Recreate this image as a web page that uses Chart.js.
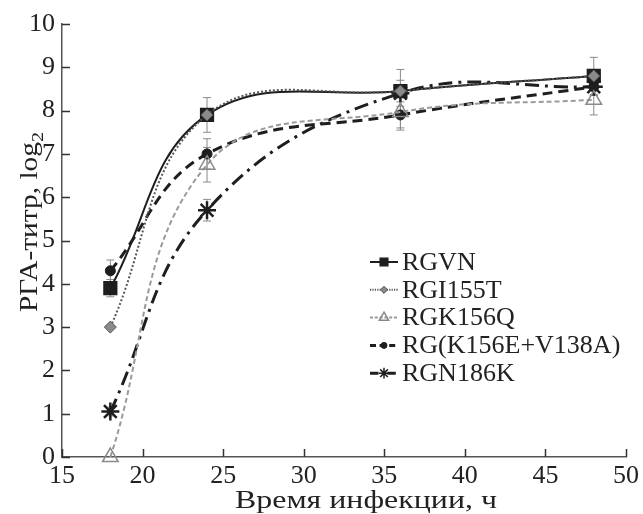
<!DOCTYPE html>
<html><head><meta charset="utf-8">
<script src="https://cdn.jsdelivr.net/npm/chart.js@4/dist/chart.umd.min.js"></script>
<style>html,body{margin:0;padding:0;background:#fff}#wrap{width:643px;height:514px}</style>
</head><body><div id="wrap"><canvas id="c" width="643" height="514"></canvas></div>
<script>
// ---- data ----
const hours = [18, 24, 36, 48];
const seriesNames = ['RGVN', 'RGI155T', 'RGK156Q', 'RG(K156E+V138A)', 'RGN186K'];
const rgvn = [3.9, 7.9, 8.45, 8.8];
const rgvnErr = [0.2, 0.4, 0.5, 0.43];
const rgi155t = [3.0, 7.9, 8.45, 8.8];
const rgi155tErr = [0, 0, 0, 0];
const rgk156q = [0, 6.75, 7.97, 8.25];
const rgk156qErr = [0, 0.4, 0.42, 0.35];
const rgk156e = [4.3, 7.0, 7.9, 8.55];
const rgk156eErr = [0.25, 0.35, 0.3, 0.2];
const rgn186k = [1.05, 5.7, 8.4, 8.55];
const rgn186kErr = [0.1, 0.25, 0.3, 0.2];
const xTicks = [15, 20, 25, 30, 35, 40, 45, 50];
const yTicks = [0, 1, 2, 3, 4, 5, 6, 7, 8, 9, 10];
const xTitle = 'Время инфекции, ч';
const yTitle = 'РГА-титр, log';
const yTitleSub = '2';

const FONT = "'Liberation Serif', 'DejaVu Serif', serif";
const pts = (vals) => hours.map((h, i) => ({x: h, y: vals[i]}));

const styles = [
  {color: '#1e1e1e', width: 2, dash: [], pstyle: 'rect', r: 9, bg: '#1e1e1e', bw: 1.5, order: 2},
  {color: '#555555', width: 2, dash: [2, 2], pstyle: 'rectRot', r: 6, bg: '#8a8a8a', bw: 1, order: 1},
  {color: '#9a9a9a', width: 2, dash: [5, 3], pstyle: 'triangle', r: 9, bg: 'rgba(255,255,255,0)', bw: 1.5, order: 3},
  {color: '#1e1e1e', width: 3, dash: [10, 6], pstyle: 'circle', r: 5, bg: '#1e1e1e', bw: 1, order: 4},
  {color: '#1e1e1e', width: 3, dash: [14, 6, 3, 6], pstyle: 'star', r: 9, bg: '#1e1e1e', bw: 2.5, order: 5}
];
const values = [rgvn, rgi155t, rgk156q, rgk156e, rgn186k];
const errors = [rgvnErr, rgi155tErr, rgk156qErr, rgk156eErr, rgn186kErr];

const datasets = values.map((v, i) => ({
  label: seriesNames[i],
  data: pts(v),
  borderColor: styles[i].color,
  borderWidth: styles[i].width,
  borderDash: styles[i].dash,
  tension: 0.4,
  pointStyle: styles[i].pstyle,
  pointRadius: styles[i].r,
  pointBackgroundColor: styles[i].bg,
  pointBorderColor: i === 2 ? '#8a8a8a' : styles[i].color,
  pointBorderWidth: styles[i].bw,
  order: styles[i].order,
  clip: false,
  fill: false
}));

const errorBars = {
  id: 'errorBars',
  beforeDatasetsDraw(chart) {
    const {ctx, scales: {x, y}} = chart;
    ctx.save();
    ctx.strokeStyle = '#8a8a8a';
    ctx.lineWidth = 1;
    errors.forEach((errs, si) => {
      errs.forEach((e, i) => {
        if (!e) return;
        const px = x.getPixelForValue(hours[i]);
        const top = y.getPixelForValue(values[si][i] + e);
        const bot = y.getPixelForValue(values[si][i] - e);
        ctx.beginPath();
        ctx.moveTo(px, top); ctx.lineTo(px, bot);
        ctx.moveTo(px - 4, top); ctx.lineTo(px + 4, top);
        ctx.moveTo(px - 4, bot); ctx.lineTo(px + 4, bot);
        ctx.stroke();
      });
    });
    ctx.restore();
  }
};

const innerTicks = {
  id: 'innerTicks',
  afterDraw(chart) {
    const {ctx, scales: {x, y}, chartArea} = chart;
    ctx.save();
    ctx.strokeStyle = '#333';
    ctx.lineWidth = 1.5;
    ctx.beginPath();
    yTicks.forEach(v => {
      const py = Math.round(y.getPixelForValue(v)) + 0.5;
      ctx.moveTo(chartArea.left, py); ctx.lineTo(chartArea.left + 8, py);
    });
    xTicks.forEach(v => {
      const px = Math.round(x.getPixelForValue(v)) + 0.5;
      ctx.moveTo(px, chartArea.bottom); ctx.lineTo(px, chartArea.bottom - 8);
    });
    ctx.stroke();
    ctx.restore();
  }
};

const titles = {
  id: 'titles',
  afterDraw(chart) {
    const {ctx} = chart;
    ctx.save();
    ctx.fillStyle = '#222';
    ctx.textBaseline = 'alphabetic';
    // x title, widened to the reference's span
    ctx.font = '26px ' + FONT;
    ctx.textAlign = 'center';
    const wx = ctx.measureText(xTitle).width;
    ctx.save();
    ctx.translate(366, 508);
    ctx.scale(262 / wx, 1);
    ctx.fillText(xTitle, 0, 0);
    ctx.restore();
    // y title with subscript
    ctx.translate(37, 222);
    ctx.rotate(-Math.PI / 2);
    ctx.font = '25px ' + FONT;
    const w1 = ctx.measureText(yTitle).width;
    ctx.font = '17px ' + FONT;
    const w2 = ctx.measureText(yTitleSub).width;
    const k = 180 / (w1 + w2);
    ctx.scale(k, 1);
    const start = -(w1 + w2) / 2;
    ctx.textAlign = 'left';
    ctx.font = '25px ' + FONT;
    ctx.fillText(yTitle, start, 0);
    ctx.font = '17px ' + FONT;
    ctx.fillText(yTitleSub, start + w1, 6);
    ctx.restore();
  }
};

const legendBox = {
  id: 'legendBox',
  afterDraw(chart) {
    const {ctx} = chart;
    const x0 = 370, x1 = 398, tx = 402, y0 = 262, dy = 27.8;
    datasets.forEach((ds, i) => {
      const yy = y0 + i * dy;
      ctx.save();
      ctx.strokeStyle = ds.borderColor;
      ctx.lineWidth = ds.borderWidth;
      ctx.setLineDash(ds.borderDash.map(d => d * 0.6));
      ctx.beginPath(); ctx.moveTo(x0, yy); ctx.lineTo(x1, yy); ctx.stroke();
      ctx.setLineDash([]);
      ctx.fillStyle = ds.pointBackgroundColor;
      ctx.strokeStyle = ds.pointBorderColor;
      ctx.lineWidth = Math.min(ds.pointBorderWidth, 1.5);
      Chart.helpers.drawPoint(ctx, {pointStyle: ds.pointStyle, radius: ds.pointRadius * 0.6, rotation: 0, borderWidth: ctx.lineWidth}, (x0 + x1) / 2, yy);
      ctx.fillStyle = '#222';
      ctx.font = '26px ' + FONT;
      ctx.textAlign = 'left';
      ctx.textBaseline = 'middle';
      ctx.fillText(ds.label, tx, yy + 1);
      ctx.restore();
    });
  }
};

new Chart(document.getElementById('c'), {
  type: 'line',
  data: {datasets},
  options: {
    responsive: false,
    animation: false,
    layout: {padding: {top: 24, right: 15, left: 0, bottom: 0}},
    plugins: {legend: {display: false}, tooltip: {enabled: false}},
    scales: {
      x: {
        type: 'linear', min: 15, max: 50,
        afterBuildTicks: (s) => { s.ticks = xTicks.map(v => ({value: v})); },
        afterFit: (s) => { s.height = 57; },
        grid: {display: false, drawTicks: false},
        border: {display: true, color: '#555', width: 1.5},
        ticks: {color: '#222', font: {family: FONT, size: 26}, padding: 4, maxRotation: 0, autoSkip: false}
      },
      y: {
        type: 'linear', min: 0, max: 10,
        afterBuildTicks: (s) => { s.ticks = yTicks.map(v => ({value: v})); },
        afterFit: (s) => { s.width = 62; },
        grid: {display: false, drawTicks: false},
        border: {display: true, color: '#555', width: 1.5},
        ticks: {color: '#222', font: {family: FONT, size: 26}, padding: 7, autoSkip: false}
      }
    }
  },
  plugins: [errorBars, innerTicks, titles, legendBox]
});
</script></body></html>
